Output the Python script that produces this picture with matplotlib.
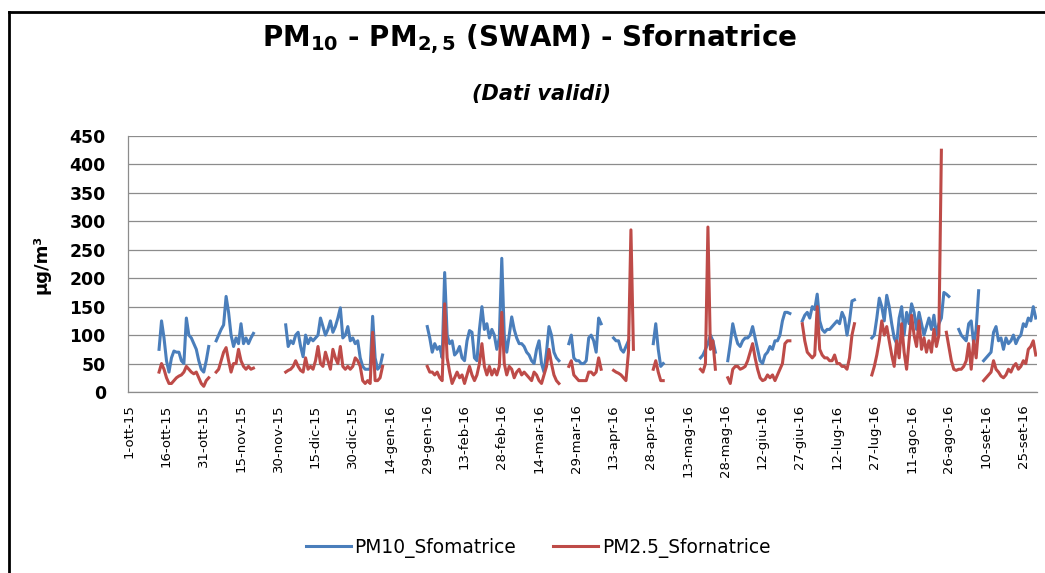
import numpy as np
import pandas as pd
import matplotlib
matplotlib.use("Agg")
import matplotlib.pyplot as plt
from matplotlib.lines import Line2D

# ---------- data (daily values; gaps = no valid data) ----------

START = "2015-10-01"
END = "2016-09-30"
MESI = ["gen", "feb", "mar", "apr", "mag", "giu", "lug", "ago", "set", "ott", "nov", "dic"]

# runs of consecutive valid days: (first day, values)
pm10_runs = [
    ("2015-10-13", [75, 125, 95, 55, 35, 60, 72, 70, 70, 55, 50, 130, 100, 95, 85, 75, 55, 40, 35, 55, 80]),
    ("2015-11-05", [90, 100, 110, 118, 168, 140, 100, 80, 95, 85, 120, 85, 95, 85, 95, 103]),
    ("2015-12-03", [118, 80, 90, 85, 100, 105, 80, 62, 100, 85, 95, 90, 95, 100, 130, 115, 100, 110, 125, 105,
                    115, 130, 148, 95, 100, 115, 90, 95, 85, 90, 60, 45, 40, 40, 40, 133, 60, 40, 45, 65]),
    ("2016-01-29", [115, 95, 70, 85, 75, 80, 60, 210, 100, 85, 90, 65, 70, 80, 60, 55, 90, 108, 105, 60,
                    55, 110, 150, 110, 120, 95, 110, 100, 75, 95, 235, 100, 70, 100, 132, 110, 95, 85, 85, 80,
                    70, 65, 55, 50, 75, 90, 50, 35, 70, 115, 100, 70, 60, 55]),
    ("2016-03-26", [85, 100, 60, 55, 55, 50, 50, 55, 95, 100, 90, 70, 130, 120]),
    ("2016-04-13", [95, 90, 90, 75, 70, 80, 90]),
    ("2016-04-29", [85, 120, 75, 45, 50]),
    ("2016-05-18", [60, 65, 75, 85, 100, 90, 70]),
    ("2016-05-29", [55, 85, 120, 100, 85, 80, 90, 95, 95, 100, 115, 95, 75, 55, 50, 65, 70, 80, 75, 90,
                    90, 100, 125, 140, 140, 138]),
    ("2016-06-28", [125, 135, 140, 130, 150, 145, 172, 125, 110, 105, 110, 110, 115, 120, 125, 120, 140, 130, 100, 125,
                    160, 162]),
    ("2016-07-26", [95, 100, 130, 165, 150, 125, 170, 150, 120, 95, 85, 130, 150, 100, 140, 120, 155, 140, 110, 140,
                    120, 100, 115, 130, 110, 135, 100, 120, 130, 175, 172, 168]),
    ("2016-08-30", [110, 100, 95, 90, 120, 125, 85, 110, 178]),
    ("2016-09-09", [55, 60, 65, 70, 105, 115, 90, 95, 75, 95, 85, 90, 100, 85, 95, 100, 120, 115, 130, 125,
                    150, 130]),
]

pm25_runs = [
    ("2015-10-13", [35, 50, 40, 25, 15, 15, 20, 25, 28, 30, 35, 45, 40, 35, 32, 35, 25, 15, 10, 20, 25]),
    ("2015-11-05", [35, 40, 55, 70, 78, 55, 35, 50, 50, 75, 55, 45, 40, 45, 40, 42]),
    ("2015-12-03", [35, 38, 40, 45, 55, 45, 38, 35, 60, 40, 45, 40, 55, 80, 50, 45, 70, 55, 40, 75,
                    60, 50, 80, 45, 40, 45, 40, 45, 60, 55, 45, 20, 15, 20, 15, 105, 20, 20, 25, 45]),
    ("2016-01-29", [45, 35, 35, 30, 35, 25, 20, 155, 60, 35, 15, 25, 35, 25, 30, 15, 30, 45, 30, 20,
                    30, 50, 85, 45, 30, 45, 30, 40, 30, 45, 140, 50, 30, 45, 40, 25, 35, 40, 30, 35,
                    30, 25, 20, 35, 30, 20, 15, 30, 45, 75, 50, 30, 20, 15]),
    ("2016-03-26", [45, 55, 30, 25, 20, 20, 20, 20, 35, 35, 30, 35, 60, 40]),
    ("2016-04-13", [38, 35, 33, 30, 25, 20, 70, 285, 75]),
    ("2016-04-29", [40, 55, 35, 20, 20]),
    ("2016-05-18", [40, 35, 50, 290, 75, 90, 40]),
    ("2016-05-29", [25, 15, 40, 45, 45, 40, 42, 45, 55, 70, 85, 60, 40, 25, 20, 22, 30, 25, 30, 20,
                    30, 40, 50, 85, 90, 90]),
    ("2016-06-28", [120, 90, 70, 65, 60, 65, 150, 75, 65, 60, 60, 55, 55, 65, 50, 50, 45, 45, 40, 60,
                    100, 120]),
    ("2016-07-26", [30, 45, 65, 90, 125, 100, 115, 90, 65, 45, 90, 60, 120, 70, 40, 90, 135, 100, 80, 125,
                    75, 95, 70, 90, 70, 110, 80, 100, 425]),
    ("2016-08-25", [105, 80, 55, 40, 38, 40, 40, 45, 55, 85, 40, 90, 60, 115]),
    ("2016-09-09", [20, 25, 30, 35, 55, 40, 35, 28, 25, 30, 40, 35, 45, 50, 40, 45, 55, 50, 75, 80,
                    90, 65]),
]

days = pd.date_range(START, END, freq="D")


def build(runs):
    s = pd.Series(np.nan, index=days)
    for first, vals in runs:
        idx = pd.date_range(first, periods=len(vals), freq="D")
        s.loc[idx] = vals
    return s


pm10 = build(pm10_runs)
pm25 = build(pm25_runs)

BLUE = "#4A7EBB"
RED = "#BE4B48"
GRID = "#8C8C8C"

# ---------- figure ----------
W, H = 1045, 573
fig = plt.figure(figsize=(W / 100, H / 100), dpi=100)
ax = fig.add_axes([128 / W, 1 - 392 / H, (1037 - 128) / W, (392 - 136) / H])

ax.plot(days, pm10.values, color=BLUE, lw=2.2, solid_joinstyle="round", label="PM10_Sfomatrice")
ax.plot(days, pm25.values, color=RED, lw=2.2, solid_joinstyle="round", label="PM2.5_Sfornatrice")

ax.set_ylim(0, 450)
ax.set_yticks(range(0, 451, 50))
ax.set_xlim(days[0] - pd.Timedelta(hours=12), days[-1] + pd.Timedelta(hours=12))

tick_days = days[::15]
ax.set_xticks(tick_days)
ax.set_xticklabels([f"{d.day}-{MESI[d.month - 1]}-{d.strftime('%y')}" for d in tick_days],
                   rotation=90, fontsize=9.5)
ax.tick_params(axis="x", length=0, pad=9)
ax.tick_params(axis="y", length=0, pad=16, labelsize=12.4)
for lab in ax.get_yticklabels():
    lab.set_fontweight("bold")

ax.grid(axis="y", color=GRID, lw=0.9)
ax.set_axisbelow(True)
for side in ("top", "right"):
    ax.spines[side].set_visible(False)
for side in ("left", "bottom"):
    ax.spines[side].set_color(GRID)
    ax.spines[side].set_linewidth(0.9)

ax.set_ylabel("μg/m³", fontsize=13, fontweight="bold")
ax.yaxis.set_label_coords(-0.0858, 0.5)

fig.text(530 / W, 1 - 46 / H, r"PM$_\mathregular{10}$ - PM$_\mathregular{2,5}$ (SWAM) - Sfornatrice",
         ha="center", va="baseline", fontsize=20, fontweight="bold")
fig.text(541 / W, 1 - 100 / H, "(Dati validi)", ha="center", va="baseline",
         fontsize=15, fontweight="bold", style="italic")

fig.legend(loc="center", bbox_to_anchor=(538 / W, 1 - 548 / H), ncol=2, frameon=False,
           fontsize=13.4, handlelength=2.4, handletextpad=0.2, columnspacing=2.0)

# chart border (only left and top edges are inside the picture)
fig.add_artist(Line2D([9 / W, 9 / W], [0, 1 - 12 / H], color="black", lw=2, transform=fig.transFigure))
fig.add_artist(Line2D([9 / W, 1], [1 - 12 / H, 1 - 12 / H], color="black", lw=2, transform=fig.transFigure))

fig.savefig("out.png", dpi=100)
